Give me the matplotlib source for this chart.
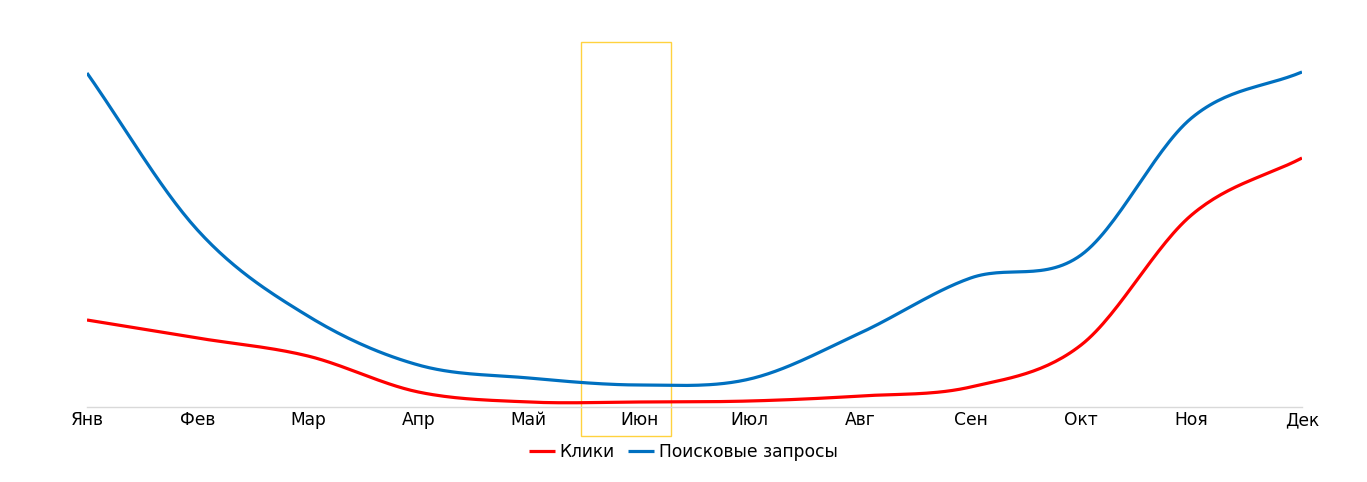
import numpy as np
import matplotlib.pyplot as plt
from matplotlib.patches import Rectangle
import matplotlib.transforms as mtransforms

plt.rcParams['font.family'] = ['DejaVu Sans']

months = ["Янв", "Фев", "Мар", "Апр", "Май", "Июн", "Июл", "Авг", "Сен", "Окт", "Ноя", "Дек"]
clicks = [87, 69, 51, 15, 5, 5, 6, 11, 20, 62, 192, 249]
searches = [334, 177, 91, 42, 29, 22, 28, 74, 129, 152, 289, 335]
highlight = 5  # Июн


def smooth(y, n=30):
    # Catmull-Rom сглаживание между точками
    y = np.asarray(y, dtype=float)
    p = np.concatenate([[2 * y[0] - y[1]], y, [2 * y[-1] - y[-2]]])
    xs, ys = [], []
    t = np.linspace(0, 1, n, endpoint=False)
    for i in range(len(y) - 1):
        p0, p1, p2, p3 = p[i], p[i + 1], p[i + 2], p[i + 3]
        seg = 0.5 * (2 * p1 + (-p0 + p2) * t + (2 * p0 - 5 * p1 + 4 * p2 - p3) * t**2
                     + (-p0 + 3 * p1 - 3 * p2 + p3) * t**3)
        xs.append(i + t)
        ys.append(seg)
    xs.append([len(y) - 1])
    ys.append([y[-1]])
    return np.concatenate(xs), np.concatenate(ys)


fig = plt.figure(figsize=(13.67, 4.82), dpi=100)
ax = fig.add_axes([87 / 1367, 75 / 482, (1302 - 87) / 1367, 377 / 482])

x = np.arange(len(months))
xs, ys = smooth(clicks)
ax.plot(xs, ys, color="#ff0000", lw=2.3, label="Клики", solid_capstyle="butt")
xs, ys = smooth(searches)
ax.plot(xs, ys, color="#0070c0", lw=2.3, label="Поисковые запросы", solid_capstyle="butt")

ax.set_xlim(0, len(months) - 1)
ax.set_ylim(0, 377)
ax.set_xticks(x)
ax.set_xticklabels(months, fontsize=12.3)
ax.set_yticks([])
ax.tick_params(axis="x", length=0, pad=3)
for s in ["top", "right", "left"]:
    ax.spines[s].set_visible(False)
ax.spines["bottom"].set_color("#d9d9d9")
ax.spines["bottom"].set_linewidth(1)

# выделение июня
trans = mtransforms.blended_transform_factory(ax.transData, ax.transAxes)
rect = Rectangle((highlight - 0.53, -29 / 377), 0.82, (365 + 29) / 377, transform=trans,
                 fill=False, edgecolor="#ffd23f", lw=1, clip_on=False)
ax.add_patch(rect)

fig.legend(*ax.get_legend_handles_labels(), loc="center", bbox_to_anchor=(0.5, 30 / 482),
           ncol=2, frameon=False, fontsize=12.3, handlelength=1.5, handletextpad=0.3,
           columnspacing=0.8)

fig.savefig("out.png", dpi=100)
